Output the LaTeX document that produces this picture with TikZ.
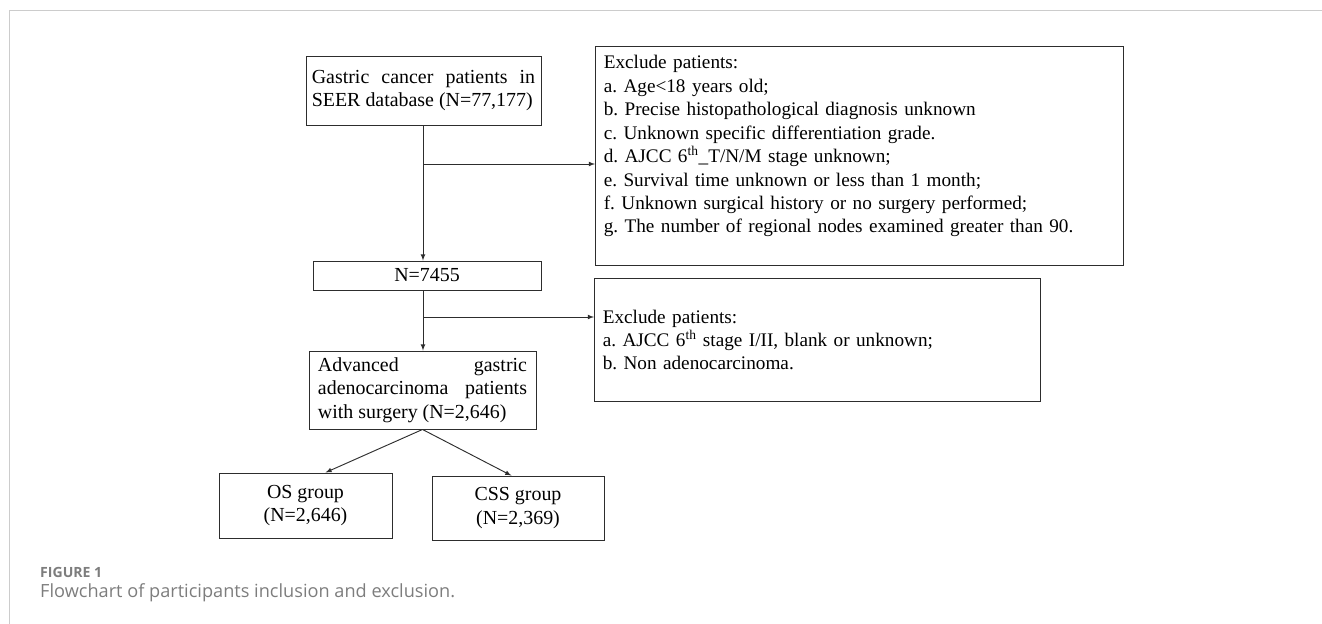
\documentclass[tikz,border=0pt]{standalone}
\usepackage{fontspec}
\setmainfont{Liberation Serif}
\newfontfamily\capfont{Open Sans}
\usepackage{xcolor}
\usetikzlibrary{arrows,positioning}
\definecolor{framegray}{RGB}{204,204,204}
\definecolor{capgray}{RGB}{125,125,125}
\definecolor{linegray}{RGB}{45,45,45}

\begin{document}
\frenchspacing
\begin{tikzpicture}[x=0.03cm, y=-0.03cm, >=latex,
    box/.style={draw=linegray, thick, inner sep=0pt, font=\fontsize{17}{20.2}\selectfont},
    listbox/.style={box, align=left, inner xsep=0.25cm, font=\fontsize{16.4}{20}\selectfont}]
    \useasboundingbox (0,0) rectangle (1322,624);
    \draw[framegray, line width=0.8pt] (9,624) -- (9,10) -- (1322,10);

    % main column
    \node[box, minimum width=7.05cm, minimum height=2.07cm, text width=6.7cm, align=justify] (seer) at (423.5,90.5) {Gastric cancer patients in\linebreak SEER database (N=77,177)};
    \node[box, minimum width=6.84cm, minimum height=0.87cm] (n7455) at (427,275.5) {N=7455};
    \node[box, minimum width=6.81cm, minimum height=2.34cm, text width=6.27cm, align=justify] (adv) at (422.5,390) {Advanced gastric\linebreak adenocarcinoma patients\linebreak with surgery (N=2,646)};
    \node[box, minimum width=5.19cm, minimum height=1.95cm, align=center] (os) at (305.5,505.5) {OS group\\(N=2,646)};
    \node[box, minimum width=5.16cm, minimum height=1.92cm, align=center] (css) at (518,508) {CSS group\\(N=2,369)};

    % exclusion boxes
    \node[listbox, text width=15.34cm, minimum height=6.57cm, anchor=north west] (excl1) at (595,46) {Exclude patients:\\
        a. Age<18 years old;\\
        b. Precise histopathological diagnosis unknown\\
        c. Unknown specific differentiation grade.\\
        d. AJCC 6\textsuperscript{th}\_T/N/M stage unknown;\\
        e. Survival time unknown or less than 1 month;\\
        f. Unknown surgical history or no surgery performed;\\
        g. The number of regional nodes examined greater than 90.\\
        \mbox{}};
    \node[listbox, text width=12.88cm, minimum height=3.69cm, anchor=north west] (excl2) at (594,278) {Exclude patients:\\
        a. AJCC 6\textsuperscript{th} stage I/II, blank or unknown;\\
        b. Non adenocarcinoma.};

    \coordinate (br1) at (423,164);
    \coordinate (br2) at (423,317);

    \draw[->, thick, linegray] (br1 |- seer.south) -- (br1 |- n7455.north);
    \draw[->, thick, linegray] (br1) -- (br1 -| excl1.west);
    \draw[->, thick, linegray] (br2 |- n7455.south) -- (br2 |- adv.north);
    \draw[->, thick, linegray] (br2) -- (br2 -| excl2.west);
    \draw[->, thick, linegray] (adv.south) -- ([xshift=0.6cm]os.north);
    \draw[->, thick, linegray] (adv.south) -- ([xshift=-0.2cm]css.north);

    % caption
    \node[anchor=west, inner sep=0pt, text=capgray, font=\capfont\bfseries\fontsize{12}{14}\selectfont] (figlabel) at (40,572) {FIGURE 1};
    \node[anchor=west, inner sep=0pt, text=capgray, font=\capfont\fontsize{15.5}{18}\selectfont] (figcap) at (40,593) {Flowchart of participants inclusion and exclusion.};
\end{tikzpicture}
\end{document}
